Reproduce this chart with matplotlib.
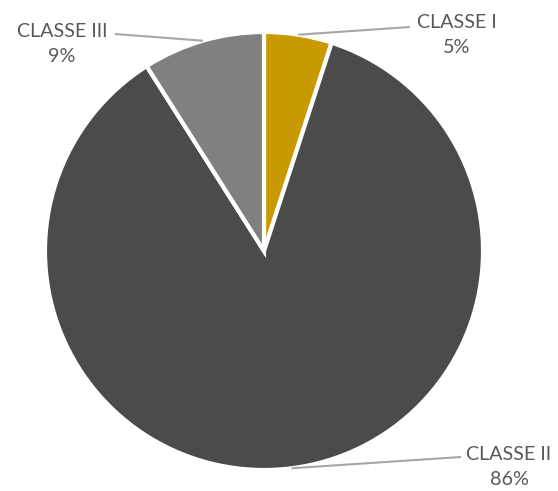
import numpy as np
import matplotlib.pyplot as plt

labels = ["CLASSE I", "CLASSE II", "CLASSE III"]
shares = [5, 86, 9]
colors = ["#C99A00", "#4B4B4B", "#808080"]

# where each label sits (pixels, origin top-left) and where its leader line ends
label_pos = [(457, 35), (509, 467), (62, 44)]
line_end = [(410, 27), (461, 457), (115, 34)]

W, H = 558, 491
fig = plt.figure(figsize=(W / 100, H / 100), dpi=100)
ax = fig.add_axes([0, 0, 1, 1])

cx, cy, r = 264, H - 251, 219
wedges, _ = ax.pie(shares, colors=colors, startangle=90, counterclock=False,
                   center=(cx, cy), radius=r, frame=True,
                   wedgeprops=dict(edgecolor="white", linewidth=3))
ax.set_xlim(0, W)
ax.set_ylim(0, H)
ax.set_aspect("equal")
ax.axis("off")

for w, lab, s, (lx, ly), (ex, ey) in zip(wedges, labels, shares, label_pos, line_end):
    mid = np.deg2rad((w.theta1 + w.theta2) / 2)
    px, py = cx + r * np.cos(mid), cy + r * np.sin(mid)
    ax.plot([px, ex], [py, H - ey], color="#A6A6A6", lw=1.5, solid_capstyle="butt")
    ax.text(lx, H - ly, f"{lab}\n{s}%", ha="center", va="center",
            fontsize=14.2, color="#595959", family="Lato", linespacing=1.6)

fig.savefig("out.png", dpi=100)
